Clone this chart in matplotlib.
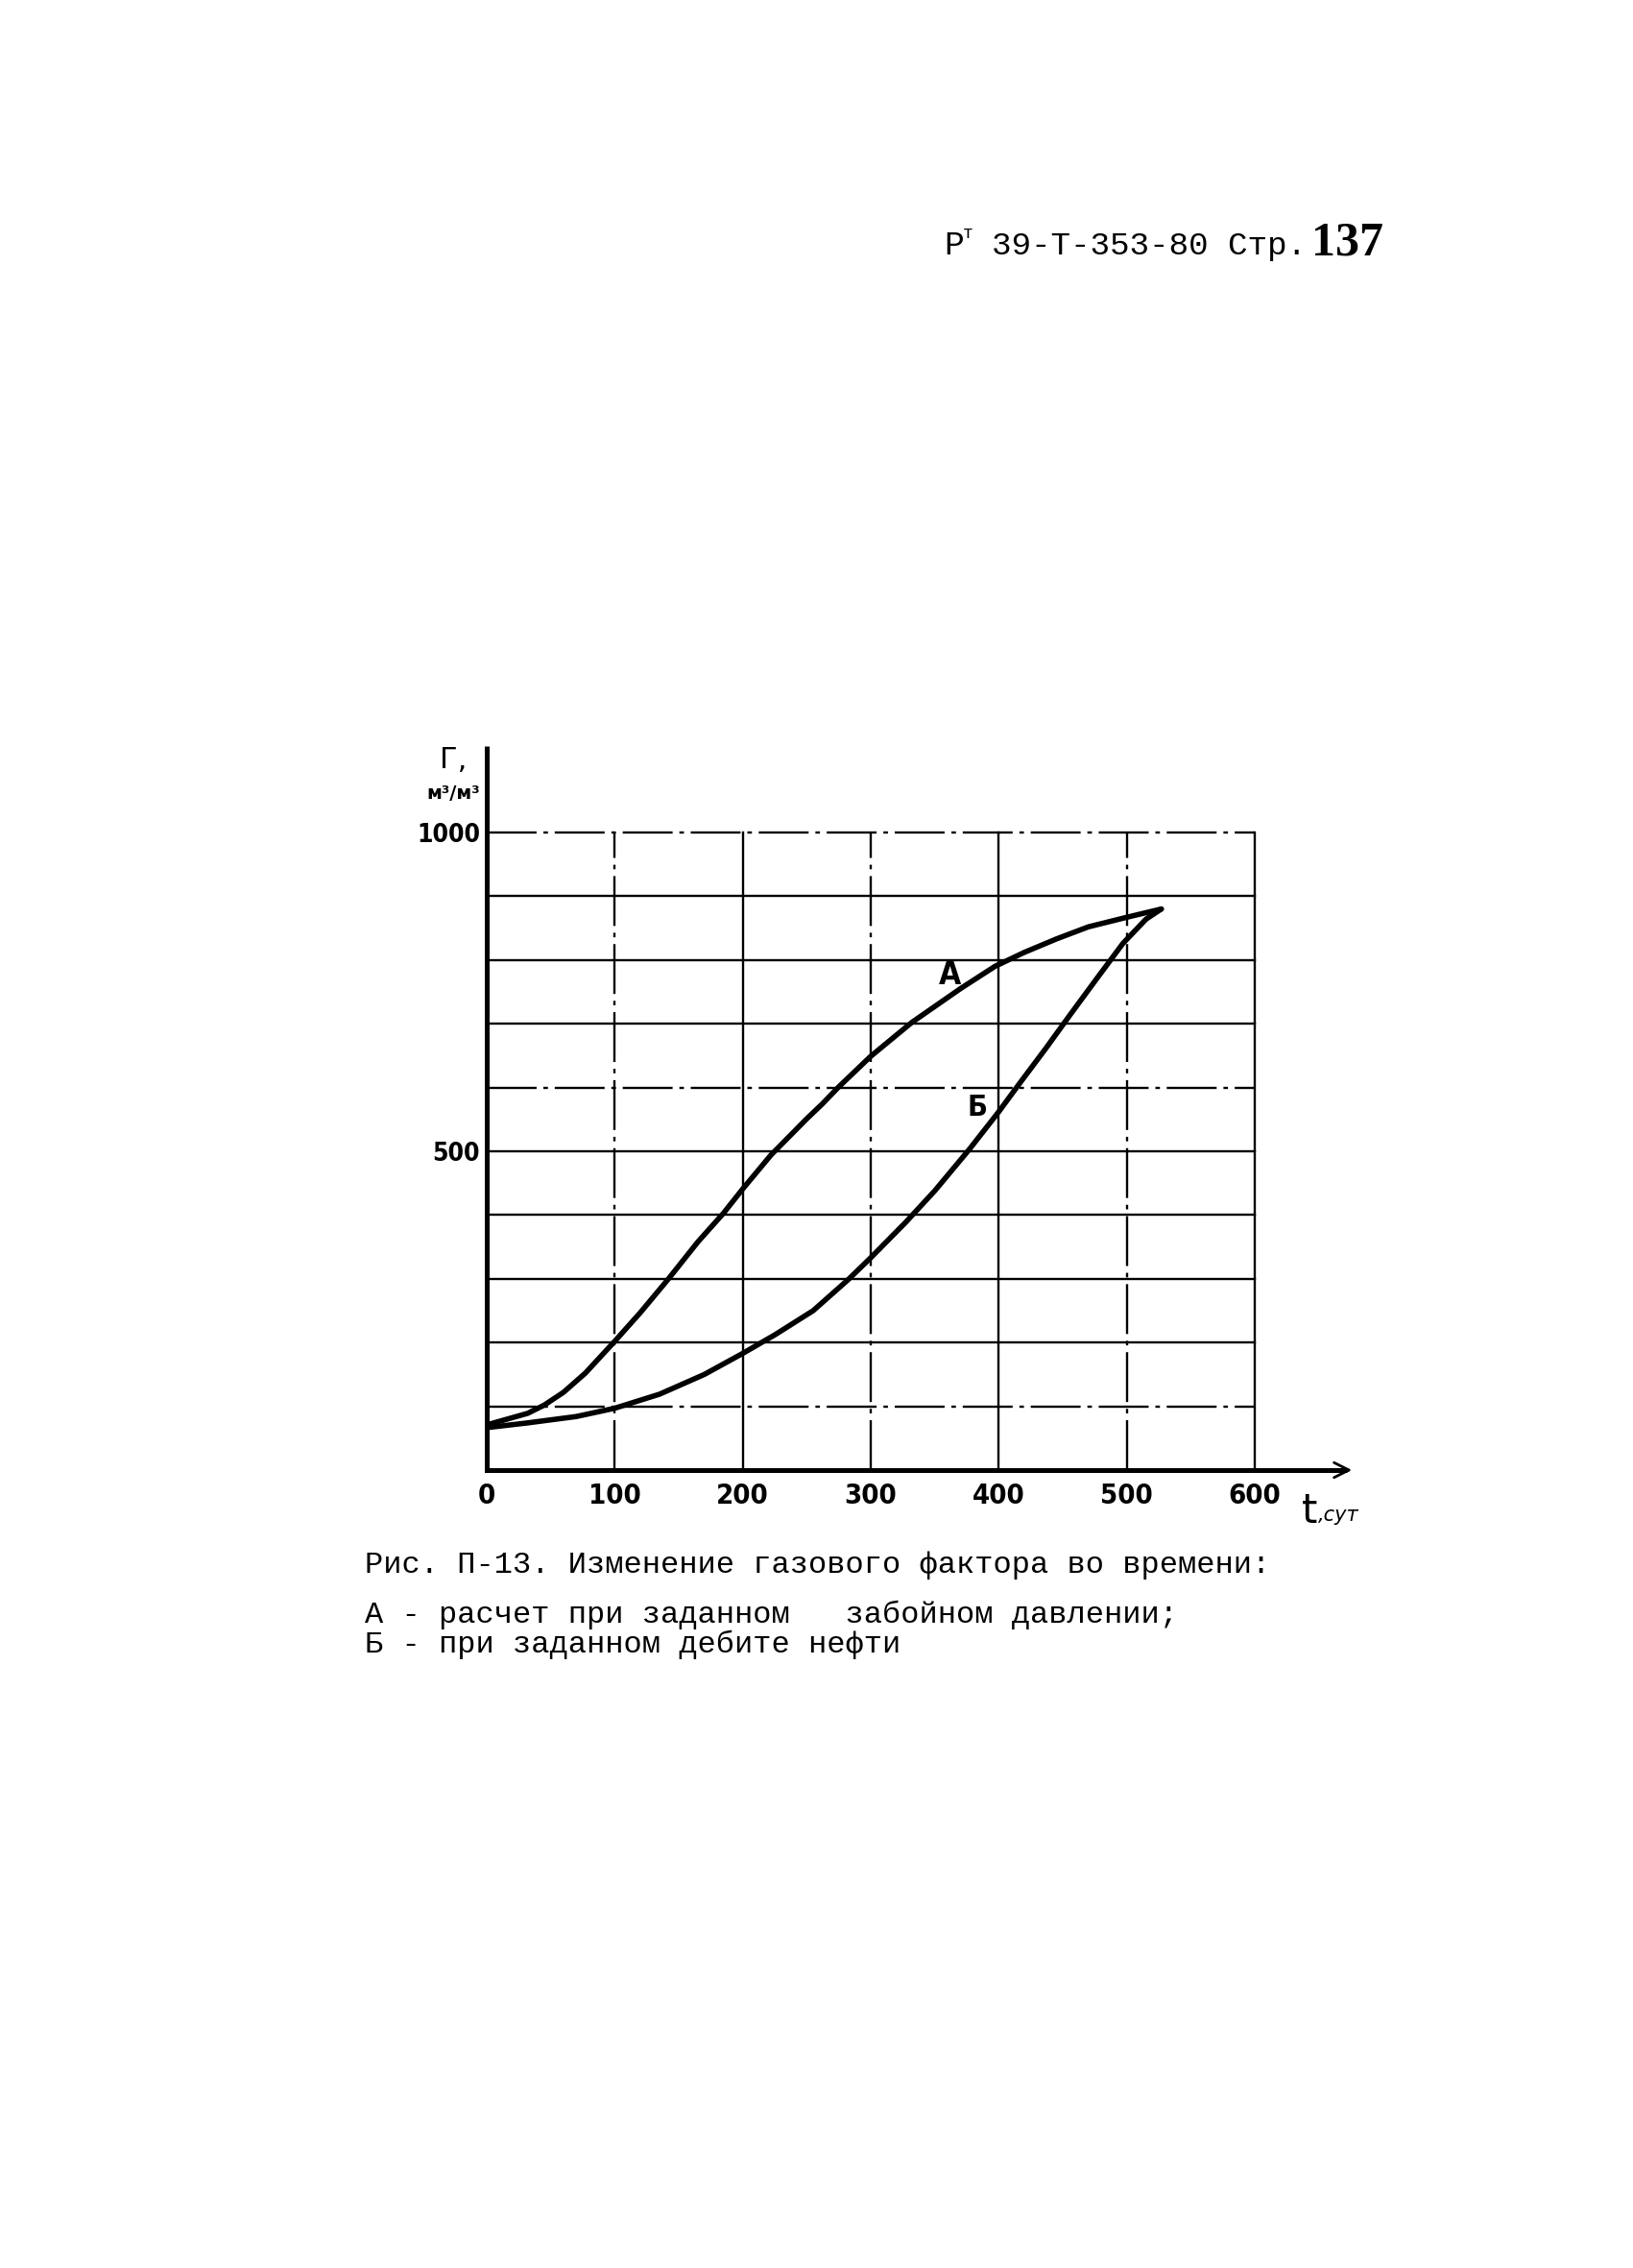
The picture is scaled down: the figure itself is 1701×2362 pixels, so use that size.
import matplotlib
matplotlib.use("Agg")
import matplotlib.pyplot as plt
from matplotlib import font_manager as fm

# ---- data ----
a_t = [2, 32, 45, 60, 77, 100, 120, 142, 165, 185, 200, 222, 250, 262, 275, 300,
       332, 370, 397, 420, 445, 470, 500, 527]
a_g = [72, 89, 102, 122, 152, 202, 247, 300, 358, 403, 441, 494, 551, 574, 601, 649,
       702, 755, 790, 812, 833, 852, 867, 880]

b_t = [2, 32, 70, 100, 135, 170, 200, 225, 255, 282, 300, 327, 350, 377, 400, 415,
       437, 455, 477, 497, 515, 527]
b_g = [67, 74, 84, 97, 119, 150, 183, 212, 250, 298, 333, 388, 438, 503, 562, 603,
       662, 712, 772, 826, 864, 880]

x_ticks = [0, 100, 200, 300, 400, 500, 600]
x_ticklabels = ["0", "100", "200", "300", "400", "500", "600"]
y_ticks = [500, 1000]
y_ticklabels = ["500", "1000"]
x_grid = [100, 200, 300, 400, 500, 600]
y_grid = [100, 200, 300, 400, 500, 600, 700, 800, 900, 1000]


def pick_narrow():
    for fam, stretch in [("Liberation Sans Narrow", "normal"),
                         ("DejaVu Sans", "condensed")]:
        try:
            p = fm.findfont(fm.FontProperties(family=fam, stretch=stretch, weight="bold"),
                            fallback_to_default=False)
            if "Narrow" in p or "Condensed" in p:
                return dict(family=[fam], stretch=stretch), True
        except Exception:
            pass
    return dict(family=["Liberation Sans", "DejaVu Sans"]), False


narrow_kw, is_narrow = pick_narrow()

W, H = 1701, 2362
fig = plt.figure(figsize=(W / 100, H / 100), dpi=100)
fig.patch.set_facecolor("white")


def fx(px):
    return px / W


def fy(py):
    return 1 - py / H


ax = fig.add_axes([fx(507), fy(1531), 800 / W, 664 / H])
ax.set_xlim(0, 600)
ax.set_ylim(0, 1000)
for s in ["top", "right"]:
    ax.spines[s].set_visible(False)
for s in ["left", "bottom"]:
    ax.spines[s].set_linewidth(3.6)
    ax.spines[s].set_color("black")
    ax.spines[s].set_zorder(4)

dash = (0, (22, 3, 2, 3))
dashed_x = {100, 300, 500}
dashed_y = {100, 600, 1000}
for v in x_grid:
    ax.axvline(v, color="black", lw=1.7, ls=dash if v in dashed_x else "-",
               zorder=1, clip_on=False)
for v in y_grid:
    ax.axhline(v, color="black", lw=1.7, ls=dash if v in dashed_y else "-",
               zorder=1, clip_on=False)

# axis extensions with arrows
ax.plot([0, 0], [1000, 1135], color="black", lw=3.6, clip_on=False, solid_capstyle="butt")
ax.plot([600, 672], [0, 0], color="black", lw=3.6, clip_on=False, solid_capstyle="butt")
ax.annotate("", xy=(678, 0), xytext=(650, 0),
            arrowprops=dict(arrowstyle="->", lw=2.0, mutation_scale=28, color="black"),
            annotation_clip=False)

ax.plot(a_t, a_g, color="black", lw=4.0, solid_capstyle="round", solid_joinstyle="round", zorder=3)
ax.plot(b_t, b_g, color="black", lw=4.0, solid_capstyle="round", solid_joinstyle="round", zorder=3)

xfs = 21 if is_narrow else 17
yfs = 19 if is_narrow else 15
ax.set_xticks(x_ticks)
ax.set_xticklabels(x_ticklabels, fontsize=xfs, fontweight="bold", **narrow_kw)
ax.set_yticks(y_ticks)
ax.set_yticklabels(y_ticklabels, fontsize=yfs, fontweight="bold", **narrow_kw)
ax.tick_params(axis="x", length=0, pad=9)
ax.tick_params(axis="y", length=0, pad=5)

ax.text(362, 777, "А", fontsize=24, fontweight="bold", ha="center", va="center", **narrow_kw)
ax.text(383, 569, "Б", fontsize=22, fontweight="bold", ha="center", va="center", **narrow_kw)

# axis labels
fig.text(fx(472), fy(792), "Г,", fontsize=22, ha="center", va="center",
         family=["DejaVu Sans"])
fig.text(fx(472), fy(826), "м³/м³", fontsize=14, fontweight="bold", ha="center", va="center",
         family=["DejaVu Sans"])
fig.text(fx(1356), fy(1586), "t", fontsize=30, ha="left", va="baseline",
         family=["DejaVu Sans"])
fig.text(fx(1373), fy(1584), ",сут", fontsize=15, style="italic", ha="left", va="baseline",
         family=["DejaVu Sans"])

# header
mono = ["Liberation Mono", "DejaVu Sans Mono"]
fig.text(fx(983), fy(265), "Р", fontsize=25, family=mono, ha="left", va="baseline")
fig.text(fx(1003), fy(248), "т", fontsize=13, family=mono, ha="left", va="baseline")
fig.text(fx(1033), fy(265), "39-Т-353-80 Стр.", fontsize=24.7, family=mono, ha="left", va="baseline")
fig.text(fx(1366), fy(265), "137", fontsize=36, fontweight="bold",
         family=["Liberation Serif", "DejaVu Serif"], ha="left", va="baseline")

# caption
fig.text(fx(380), fy(1638), "Рис. П-13. Изменение газового фактора во времени:",
         fontsize=23, family=mono, ha="left", va="baseline")
fig.text(fx(380), fy(1667),
         "А - расчет при заданном   забойном давлении;\nБ - при заданном дебите нефти",
         fontsize=23, family=mono, ha="left", va="top", linespacing=1.0)

fig.savefig("out.png", dpi=100, facecolor="white")
